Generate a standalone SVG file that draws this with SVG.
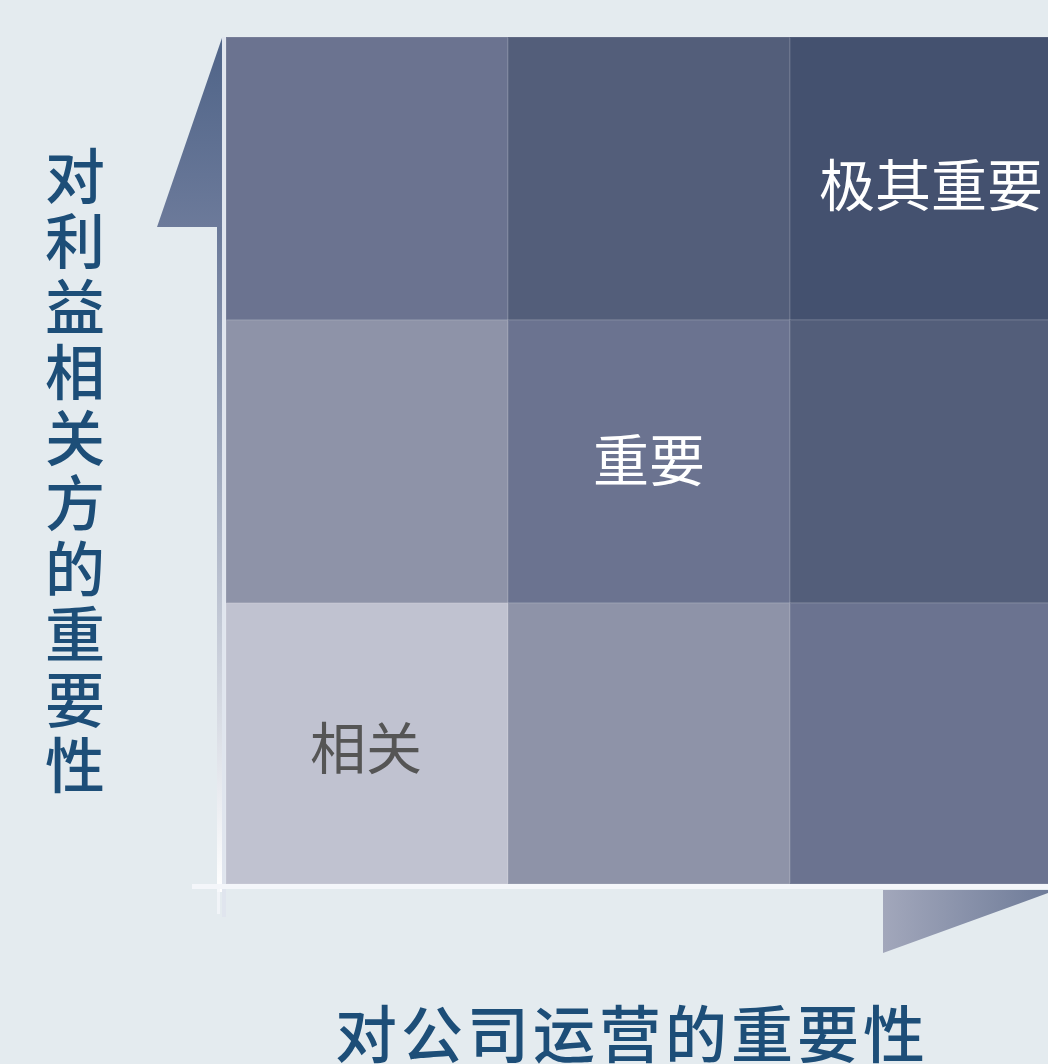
<svg xmlns="http://www.w3.org/2000/svg" width="1048" height="1064" viewBox="0 0 1048 1064">
<defs>
<style>
.cell{stroke:#ffffff;stroke-opacity:0.08;stroke-width:2}
.lbl{font-family:"Noto Sans CJK SC","Noto Sans",sans-serif;font-size:56px;text-anchor:middle}
.axis{font-family:"Noto Sans CJK SC","Noto Sans",sans-serif;font-size:62px;font-weight:500;fill:#1d4e78;text-anchor:middle}
.vt{font-family:"Noto Sans CJK SC","Noto Sans",sans-serif;font-size:60px;font-weight:500;fill:#1d4e78;writing-mode:vertical-rl;letter-spacing:5.5px}
</style>
<linearGradient id="vbar" x1="0" y1="0" x2="0" y2="1">
<stop offset="0" stop-color="#6a7999"/>
<stop offset="1" stop-color="#ffffff"/>
</linearGradient>
<linearGradient id="vtri" x1="0" y1="0" x2="0" y2="1">
<stop offset="0" stop-color="#4f6488"/>
<stop offset="1" stop-color="#6c7a9a"/>
</linearGradient>
<linearGradient id="htri" x1="0" y1="0" x2="1" y2="0">
<stop offset="0" stop-color="#a2a7bb"/>
<stop offset="1" stop-color="#6f7c99"/>
</linearGradient>
</defs>
<rect width="1048" height="1064" fill="#e4ebef"/>
<g id="axes">
<polygon points="157,227 222,227 222,38" fill="url(#vtri)"/>
<rect x="217" y="227" width="5" height="665" fill="url(#vbar)"/>
<rect x="222" y="37" width="4" height="880" fill="#dfe3ee" opacity="0.8"/>
<polygon points="883,890 1048,890 1048,893 883,953" fill="url(#htri)"/>
<rect x="192" y="884" width="856" height="5" fill="#f4f6fa"/>
<rect x="217" y="884" width="3" height="30" fill="#f4f6fa" opacity="0.8"/>
</g>
<g id="grid">
<rect id="c11" class="cell" x="226" y="37" width="282" height="283" fill="#6b7390"/>
<rect id="c12" class="cell" x="508" y="37" width="282" height="283" fill="#535e7a"/>
<rect id="c13" class="cell" x="790" y="37" width="282" height="283" fill="#44516f"/>
<rect id="c21" class="cell" x="226" y="320" width="282" height="283" fill="#8e93a8"/>
<rect id="c22" class="cell" x="508" y="320" width="282" height="283" fill="#6b7390"/>
<rect id="c23" class="cell" x="790" y="320" width="282" height="283" fill="#535e7a"/>
<rect id="c31" class="cell" x="226" y="603" width="282" height="281" fill="#c0c2d0"/>
<rect id="c32" class="cell" x="508" y="603" width="282" height="281" fill="#8e93a8"/>
<rect id="c33" class="cell" x="790" y="603" width="282" height="281" fill="#6b7390"/>
</g>
<g id="labels">
<text class="lbl" x="931" y="206" fill="#ffffff">极其重要</text>
<text class="lbl" x="649" y="481" fill="#ffffff">重要</text>
<text class="lbl" x="366" y="769" fill="#555555">相关</text>
</g>
<g id="yaxis-title">
<text class="vt" x="75" y="146">对利益相关方的重要性</text>
</g>
<g id="xaxis-title">
<text class="axis" x="632" y="1058" letter-spacing="4">对公司运营的重要性</text>
</g>
</svg>
